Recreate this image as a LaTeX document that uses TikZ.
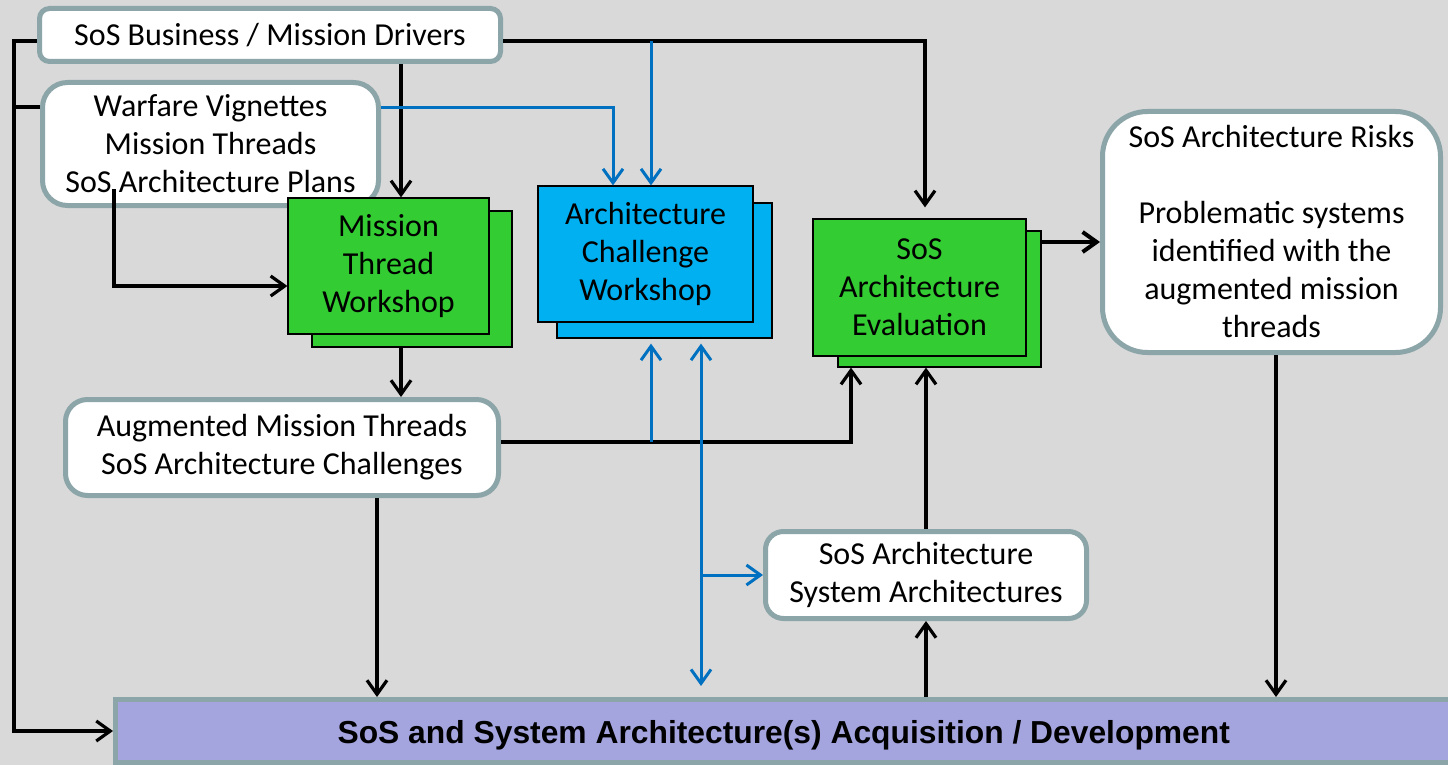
\documentclass[tikz,border=0pt]{standalone}
\usepackage{fontspec}
\setmainfont{Carlito}
\newfontfamily\barfamily{Liberation Sans}
\usetikzlibrary{arrows.meta,calc}
\definecolor{bg}{HTML}{D9D9D9}
\definecolor{bord}{HTML}{8CA5A8}
\definecolor{gfill}{HTML}{33CC33}
\definecolor{bfill}{HTML}{00B0F0}
\definecolor{bline}{HTML}{0070C0}
\definecolor{barfill}{HTML}{A4A4DF}
\newcommand\boxfont{\fontsize{32}{38}\selectfont}
\newcommand\bigbarfont{\barfamily\bfseries\fontsize{31.8}{36}\selectfont}
\begin{document}
\begin{tikzpicture}[x=1pt,y=-1pt,
  >={Straight Barb[length=14pt,width=20pt]},
  rbox/.style={draw=bord, line width=5pt, fill=white, rounded corners=#1, inner sep=0pt, align=center, font=\boxfont},
  rbox/.default=12pt,
  gproc/.style={draw=black, line width=1.2pt, fill=gfill, inner sep=0pt, align=center, font=\boxfont},
  bproc/.style={draw=black, line width=1.2pt, fill=bfill, inner sep=0pt, align=center, font=\boxfont},
  arr/.style={line width=3.2pt, ->},
  lin/.style={line width=3.2pt},
  barr/.style={line width=3pt, draw=bline, ->}
]
\fill[bg] (0,0) rectangle (1448,765);
\useasboundingbox (0,0) rectangle (1448,765);
\clip (0,0) rectangle (1448,765);

% rounded information boxes
\node[rbox=10pt, minimum width=461pt, minimum height=53pt] (drv) at (270,35) {SoS Business / Mission Drivers};
\node[rbox=25pt, minimum width=336pt, minimum height=123pt] (vig) at (210.5,144) {Warfare Vignettes\\Mission Threads\\SoS Architecture Plans};
\node[rbox=45pt, minimum width=338pt, minimum height=241pt] (risk) at (1271.5,232) {SoS Architecture Risks\\[38pt]Problematic systems\\identified with the\\augmented mission\\threads};
\node[rbox=22pt, minimum width=433pt, minimum height=96pt] (aug) at (282,447.5) {Augmented Mission Threads\\SoS Architecture Challenges};
\node[rbox=18pt, minimum width=321pt, minimum height=87pt] (arch) at (926,575) {SoS Architecture\\System Architectures};
\node[draw=bord, line width=5pt, fill=barfill, inner sep=0pt, minimum width=1336.5pt, minimum height=63pt, text height=32pt, text depth=8pt, font=\bigbarfont] (bar) at (783.75,731) {SoS and System Architecture(s) Acquisition / Development};

% process boxes (back then front)
\node[gproc, minimum width=200pt, minimum height=136pt] (mtwb) at (412,279) {};
\node[gproc, minimum width=201pt, minimum height=136pt] (mtw) at (388.5,266) {Mission\\Thread\\Workshop};
\node[bproc, minimum width=215pt, minimum height=135pt] (acwb) at (664.5,270.5) {};
\node[bproc, minimum width=215pt, minimum height=136pt] (acw) at (645.5,254) {Architecture\\Challenge\\Workshop};
\node[gproc, minimum width=203pt, minimum height=136pt] (saeb) at (939.5,299) {};
\node[gproc, minimum width=213pt, minimum height=137pt] (sae) at (919.5,287.5) {SoS\\Architecture\\Evaluation};

% junction coordinates
\coordinate (jb) at (651,41);
\coordinate (jc) at (651,442);
\coordinate (jd) at (701,575);
\coordinate (vs) at ($(vig.south -| 114,0)+(0,-19)$);

% black connectors
\draw[arr] (drv.west |- 0,41) -- (14,41) |- (bar.west);
\draw[lin] (vig.west |- 0,107) -- (14,107);
\draw[arr, shorten >=11pt] (drv.east |- 0,41) -| (sae.north -| 925,0);
\draw[arr] (drv.south -| 401,0) -- (mtw.north -| 401,0);
\draw[arr] (vs) |- (mtw.west |- 0,286);
\draw[arr] (mtwb.south -| 401,0) -- (aug.north -| 401,0);
\draw[arr] (aug.east |- 0,442) -| (saeb.south -| 851,0);
\draw[arr] (arch.north -| 926,0) -- (saeb.south -| 926,0);
\draw[arr] (aug.south -| 377,0) -- (bar.north -| 377,0);
\draw[arr] (bar.north -| 926,0) -- (arch.south -| 926,0);
\draw[arr, line width=4pt] (saeb.east |- 0,242) -- (risk.west |- 0,242);
\draw[arr] (risk.south -| 1276,0) -- (bar.north -| 1276,0);

% blue connectors
\draw[barr] (jb) -- (acw.north -| 651,0);
\draw[barr] (vig.east |- 0,108) -| (acw.north -| 613,0);
\draw[barr, shorten >=5pt] (jc) -- (acwb.south -| 651,0);
\draw[barr, <->, shorten <=5pt, shorten >=11pt] (acwb.south -| 701,0) -- (bar.north -| 701,0);
\draw[barr] (jd) -- (arch.west);
\end{tikzpicture}
\end{document}
